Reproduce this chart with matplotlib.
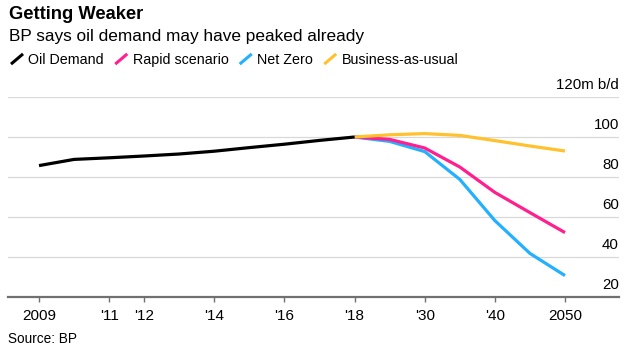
import matplotlib
matplotlib.use("Agg")
import matplotlib.pyplot as plt
import numpy as np
from matplotlib.lines import Line2D
from matplotlib.legend_handler import HandlerBase

# ---- data ----
hist_years = [2009, 2010, 2011, 2012, 2013, 2014, 2015, 2016, 2017, 2018]
oil_demand = [85.7, 88.8, 89.6, 90.5, 91.5, 92.9, 94.7, 96.4, 98.3, 100.0]

proj_years = [2018, 2025, 2030, 2035, 2040, 2045, 2050]
rapid = [100.0, 98.8, 94.5, 85.0, 72.3, 62.2, 52.2]
net_zero = [100.0, 97.8, 92.7, 78.8, 58.2, 41.8, 30.7]
bau = [100.0, 101.1, 101.7, 100.8, 98.2, 95.5, 93.0]

tick_years = [2009, 2011, 2012, 2014, 2016, 2018, 2030, 2040, 2050]
tick_labels = ["2009", "'11", "'12", "'14", "'16", "'18", "'30", "'40", "2050"]

y_ticks = [20, 40, 60, 80, 100, 120]
y_labels = ["20", "40", "60", "80", "100", "120m b/d"]

series_names = ["Oil Demand", "Rapid scenario", "Net Zero", "Business-as-usual"]
colors = ["#000000", "#FF1F8E", "#22B0FF", "#FFC12E"]

# categorical positions (chart places points evenly)
all_years = hist_years + proj_years[1:]
pos = {y: i for i, y in enumerate(all_years)}
hx = [pos[y] for y in hist_years]
px = [pos[y] for y in proj_years]

plt.rcParams['font.family'] = ['Liberation Sans', 'DejaVu Sans']

W, H = 630, 354
fig = plt.figure(figsize=(W / 100, H / 100), dpi=100)
ax = fig.add_axes([8 / W, 1 - 297 / H, (619 - 8) / W, 200 / H])

lw = 2.3
ax.plot(px, net_zero, color=colors[2], lw=lw, solid_capstyle='butt', zorder=3)
ax.plot(px, rapid, color=colors[1], lw=lw, solid_capstyle='butt', zorder=4)
ax.plot(px, bau, color=colors[3], lw=lw, solid_capstyle='butt', zorder=5)
ax.plot(hx, oil_demand, color=colors[0], lw=lw, solid_capstyle='butt', zorder=6)

span = (pos[2050] - pos[2009])
unit = (565 - 39) / span
ax.set_xlim(pos[2009] - 31 / unit, pos[2050] + 54 / unit)
ax.set_ylim(20, 120)

for v in y_ticks[1:]:
    ax.axhline(v, color="#D9D9D9", lw=0.9, zorder=1)

for v, lab in zip(y_ticks, y_labels):
    ax.annotate(lab, xy=(1, v), xycoords=ax.get_yaxis_transform(),
                xytext=(0, 5.8), textcoords='offset points',
                ha='right', va='baseline', fontsize=10.8, color='#000000')

for s in ['top', 'right', 'left']:
    ax.spines[s].set_visible(False)
ax.spines['bottom'].set_color('#707070')
ax.spines['bottom'].set_linewidth(1.6)
ax.set_yticks([])
ax.set_xticks([pos[y] for y in tick_years])
ax.set_xticklabels(tick_labels, fontsize=11)
ax.tick_params(axis='x', length=3.5, width=1.0, color='#707070', pad=5.5)


class SlashHandler(HandlerBase):
    def create_artists(self, legend, orig_handle, xdescent, ydescent,
                       width, height, fontsize, trans):
        x0, y0 = -xdescent, -ydescent
        l = Line2D([x0, x0 + width], [y0, y0 + height],
                   color=orig_handle.get_color(), lw=2.2,
                   solid_capstyle='butt', transform=trans)
        return [l]


handles = [Line2D([], [], color=c) for c in colors]
fig.legend(handles, series_names, handler_map={Line2D: SlashHandler()},
           loc='center left', bbox_to_anchor=(11 / W, 1 - 60 / H),
           ncol=4, frameon=False, fontsize=10.3, handlelength=0.84,
           handleheight=0.72, handletextpad=0.38, columnspacing=0.78,
           borderpad=0, borderaxespad=0)

fig.text(9 / W, 1 - 19 / H, "Getting Weaker", fontsize=13.2, fontweight='bold',
         ha='left', va='baseline')
fig.text(9 / W, 1 - 41 / H, "BP says oil demand may have peaked already",
         fontsize=12.4, ha='left', va='baseline')
fig.text(8 / W, 1 - 343 / H, "Source: BP", fontsize=9.8, ha='left', va='baseline')

fig.savefig("out.png", dpi=100)
